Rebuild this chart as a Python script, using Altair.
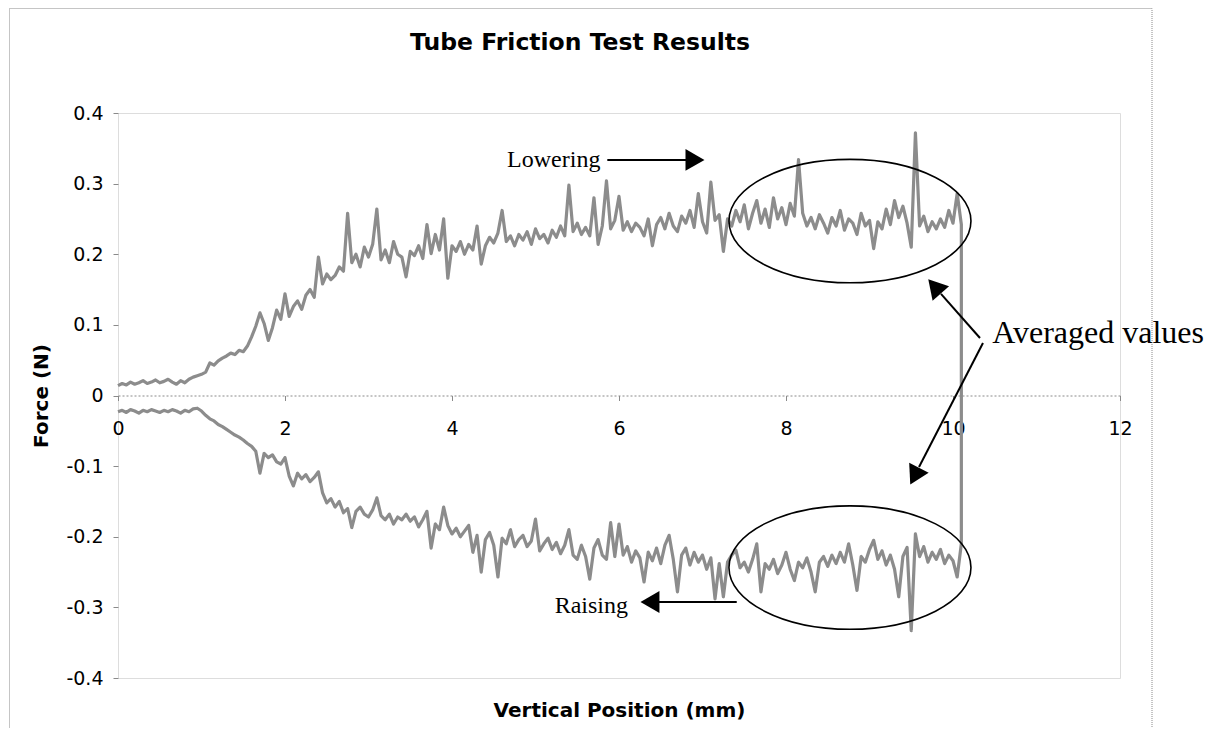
import altair as alt
import pandas as pd

# ---------------- data ----------------
X_STEP = 0.05  # sampling step of the trace along the position axis (mm)

LOWERING = [
    0.014, 0.017, 0.015, 0.019, 0.016, 0.018, 0.021, 0.017, 0.019, 0.022,
    0.018, 0.020, 0.023, 0.019, 0.016, 0.021, 0.018, 0.023, 0.026, 0.028,
    0.030, 0.033, 0.046, 0.043, 0.049, 0.053, 0.056, 0.060, 0.058, 0.064,
    0.062, 0.070, 0.083, 0.098, 0.117, 0.102, 0.078, 0.096, 0.121, 0.108,
    0.144, 0.112, 0.126, 0.134, 0.122, 0.142, 0.150, 0.139, 0.196, 0.158,
    0.172, 0.164, 0.170, 0.182, 0.176, 0.258, 0.188, 0.200, 0.182, 0.210,
    0.196, 0.214, 0.264, 0.192, 0.206, 0.188, 0.218, 0.200, 0.196, 0.168,
    0.204, 0.198, 0.212, 0.194, 0.242, 0.201, 0.228, 0.206, 0.250, 0.166,
    0.212, 0.204, 0.218, 0.200, 0.214, 0.206, 0.240, 0.186, 0.212, 0.224,
    0.216, 0.230, 0.262, 0.218, 0.226, 0.212, 0.228, 0.220, 0.232, 0.214,
    0.236, 0.222, 0.228, 0.216, 0.234, 0.224, 0.240, 0.226, 0.298, 0.232,
    0.244, 0.228, 0.238, 0.226, 0.280, 0.214, 0.240, 0.304, 0.236, 0.248,
    0.282, 0.234, 0.246, 0.232, 0.244, 0.238, 0.226, 0.250, 0.212, 0.242,
    0.252, 0.236, 0.258, 0.240, 0.232, 0.254, 0.244, 0.262, 0.238, 0.286,
    0.246, 0.230, 0.302, 0.248, 0.256, 0.204, 0.250, 0.240, 0.262, 0.246,
    0.270, 0.236, 0.258, 0.276, 0.244, 0.264, 0.238, 0.280, 0.250, 0.266,
    0.242, 0.272, 0.254, 0.334, 0.258, 0.240, 0.252, 0.236, 0.256, 0.244,
    0.230, 0.252, 0.240, 0.262, 0.234, 0.250, 0.244, 0.228, 0.258, 0.240,
    0.248, 0.208, 0.246, 0.236, 0.264, 0.242, 0.276, 0.252, 0.268, 0.244,
    0.210, 0.372, 0.240, 0.254, 0.232, 0.246, 0.236, 0.250, 0.238, 0.262,
    0.244, 0.286, 0.242,
]

RAISING = [
    -0.023, -0.021, -0.024, -0.020, -0.022, -0.025, -0.021, -0.023, -0.020, -0.022,
    -0.024, -0.021, -0.023, -0.020, -0.022, -0.025, -0.021, -0.023, -0.019, -0.018,
    -0.022, -0.028, -0.033, -0.036, -0.041, -0.044, -0.048, -0.052, -0.056, -0.059,
    -0.063, -0.068, -0.072, -0.079, -0.110, -0.082, -0.088, -0.084, -0.094, -0.097,
    -0.088, -0.114, -0.128, -0.110, -0.118, -0.112, -0.122, -0.116, -0.108, -0.138,
    -0.152, -0.146, -0.158, -0.150, -0.166, -0.160, -0.187, -0.164, -0.158, -0.168,
    -0.172, -0.162, -0.145, -0.170, -0.176, -0.168, -0.182, -0.172, -0.176, -0.168,
    -0.178, -0.172, -0.186, -0.176, -0.164, -0.216, -0.182, -0.190, -0.158, -0.184,
    -0.196, -0.188, -0.200, -0.192, -0.184, -0.222, -0.198, -0.250, -0.204, -0.194,
    -0.212, -0.257, -0.202, -0.210, -0.190, -0.214, -0.204, -0.198, -0.214, -0.206,
    -0.175, -0.220, -0.210, -0.202, -0.218, -0.208, -0.224, -0.212, -0.190, -0.226,
    -0.232, -0.212, -0.228, -0.260, -0.216, -0.204, -0.226, -0.232, -0.180, -0.228,
    -0.182, -0.226, -0.214, -0.236, -0.220, -0.230, -0.264, -0.222, -0.234, -0.216,
    -0.238, -0.212, -0.198, -0.232, -0.278, -0.226, -0.216, -0.240, -0.222, -0.236,
    -0.226, -0.246, -0.230, -0.288, -0.238, -0.285, -0.236, -0.226, -0.219, -0.244,
    -0.236, -0.250, -0.232, -0.210, -0.278, -0.238, -0.246, -0.232, -0.252, -0.240,
    -0.222, -0.246, -0.262, -0.236, -0.244, -0.230, -0.250, -0.278, -0.236, -0.228,
    -0.242, -0.226, -0.238, -0.222, -0.236, -0.210, -0.240, -0.276, -0.228, -0.236,
    -0.218, -0.205, -0.232, -0.220, -0.240, -0.226, -0.246, -0.285, -0.228, -0.215,
    -0.333, -0.196, -0.228, -0.214, -0.236, -0.222, -0.232, -0.218, -0.238, -0.226,
    -0.234, -0.257, -0.210,
]

X_TICKS = [0, 2, 4, 6, 8, 10, 12]
Y_TICKS = [-0.4, -0.3, -0.2, -0.1, 0, 0.1, 0.2, 0.3, 0.4]

# annotation texts (data coordinates)
LABEL_TEXT = ["Lowering", "Raising", "Averaged values"]
LABEL_X = [4.66, 5.23, 10.47]
LABEL_Y = [0.3237, -0.308, 0.0744]
LABEL_SIZE = [24, 24, 32]

# arrow shafts
SHAFT_X = [5.86, 7.41, 10.323, 10.359]
SHAFT_Y = [0.3336, -0.2925, 0.0814, 0.0744]
SHAFT_X2 = [6.85, 6.45, 9.856, 9.593]
SHAFT_Y2 = [0.3336, -0.2925, 0.1438, -0.1013]

# arrow heads
HEAD_X = [6.91, 6.371, 9.779, 9.540]
HEAD_Y = [0.3336, -0.2925, 0.1544, -0.1142]
HEAD_ANGLE = [90, 270, 318.6, 207.2]

# ellipses around the averaged regions
ELLIPSE_X = [8.766, 8.766]
ELLIPSE_Y = [0.247, -0.2436]

# ---------------- tables ----------------
rows = []
seq = 0
for i, v in enumerate(LOWERING):
    rows.append({"x": round(i * X_STEP, 3), "y": v, "seq": seq})
    seq += 1
for i in range(len(RAISING) - 1, -1, -1):
    rows.append({"x": round(i * X_STEP, 3), "y": RAISING[i], "seq": seq})
    seq += 1
df_line = pd.DataFrame(rows)

df_text = pd.DataFrame({"x": LABEL_X, "y": LABEL_Y, "label": LABEL_TEXT, "size": LABEL_SIZE})
df_shaft = pd.DataFrame({"x": SHAFT_X, "y": SHAFT_Y, "x2": SHAFT_X2, "y2": SHAFT_Y2})
df_head = pd.DataFrame({"x": HEAD_X, "y": HEAD_Y, "angle": HEAD_ANGLE})
df_ell = pd.DataFrame({"x": ELLIPSE_X, "y": ELLIPSE_Y})
df_one = pd.DataFrame({"a": [0]})

# ---------------- encodings ----------------
xs = alt.Scale(domain=[0, 12], nice=False, zero=False)
ys = alt.Scale(domain=[-0.4, 0.4], nice=False, zero=False)

xaxis = alt.Axis(
    values=X_TICKS, title="Vertical Position (mm)", offset=-282.5,
    domainColor="#8a8a8a", domainDash=[2, 2], domainWidth=1,
    tickColor="#8a8a8a", tickSize=5, tickWidth=1,
    labelFont="DejaVu Sans", labelFontSize=19, labelColor="black",
    labelPadding=19, labelFlush=False, grid=False,
    titleFont="DejaVu Sans", titleFontSize=20, titleFontWeight="bold",
    titleColor="black", titleY=315, titleBaseline="middle",
)
yaxis = alt.Axis(
    values=Y_TICKS, title="Force (N)", domain=False,
    tickColor="#8a8a8a", tickSize=5, tickWidth=1,
    labelFont="DejaVu Sans", labelFontSize=19, labelColor="black",
    labelPadding=10, grid=False,
    labelExpr="datum.value == 0 ? '0' : toString(datum.value)",
    titleFont="DejaVu Sans", titleFontSize=20, titleFontWeight="bold",
    titleColor="black", titleAngle=270, titleX=-77, titleY=282.5,
    titleAlign="center", titleBaseline="middle",
)
X = alt.X("x:Q", scale=xs, axis=xaxis)
Y = alt.Y("y:Q", scale=ys, axis=yaxis)

line = alt.Chart(df_line).mark_line(color="#8c8c8c", strokeWidth=3.2, strokeJoin="round").encode(
    x=X, y=Y, order=alt.Order("seq:Q")
)

ELLIPSE_PATH = ("M 1 0 C 1 0.2817 0.5523 0.51 0 0.51 C -0.5523 0.51 -1 0.2817 -1 0 "
                "C -1 -0.2817 -0.5523 -0.51 0 -0.51 C 0.5523 -0.51 1 -0.2817 1 0 Z")
ellipses = alt.Chart(df_ell).mark_point(
    shape=ELLIPSE_PATH, filled=False, stroke="black", strokeWidth=1.6,
    size=242 * 242, opacity=1
).encode(x=X, y=Y)

shafts = alt.Chart(df_shaft).mark_rule(color="black", strokeWidth=2).encode(
    x=X, y=Y, x2=alt.X2("x2:Q"), y2=alt.Y2("y2:Q")
)

heads = alt.Chart(df_head).mark_point(
    shape="triangle-up", filled=True, color="black", opacity=1, size=480
).encode(x=X, y=Y, angle=alt.Angle("angle:Q", scale=None))

texts = alt.Chart(df_text).mark_text(
    align="left", baseline="alphabetic", font="Liberation Serif", color="black"
).encode(x=X, y=Y, text="label:N", size=alt.Size("size:Q", scale=None))

border = alt.Chart(df_one).mark_rect(
    fillOpacity=0, stroke="#8a8a8a", strokeWidth=1, strokeDash=[1, 1]
).encode(x=alt.value(-108.5), x2=alt.value(1034), y=alt.value(-104.5), y2=alt.value(640))

chart = alt.layer(border, line, ellipses, shafts, heads, texts).properties(
    width=1002, height=565,
    autosize=alt.AutoSizeParams(type="none"),
    padding={"left": 110, "top": 105, "right": 88, "bottom": 50},
    title=alt.TitleParams(
        text="Tube Friction Test Results", font="DejaVu Sans", fontSize=23.5,
        fontWeight="bold", color="black", anchor="middle", offset=0, dy=46, dx=-39,
    ),
).configure_view(stroke="#7a7a7a", strokeWidth=2).configure(background="white")

chart.save("out.html", embed_options={"renderer": "svg", "actions": False})
